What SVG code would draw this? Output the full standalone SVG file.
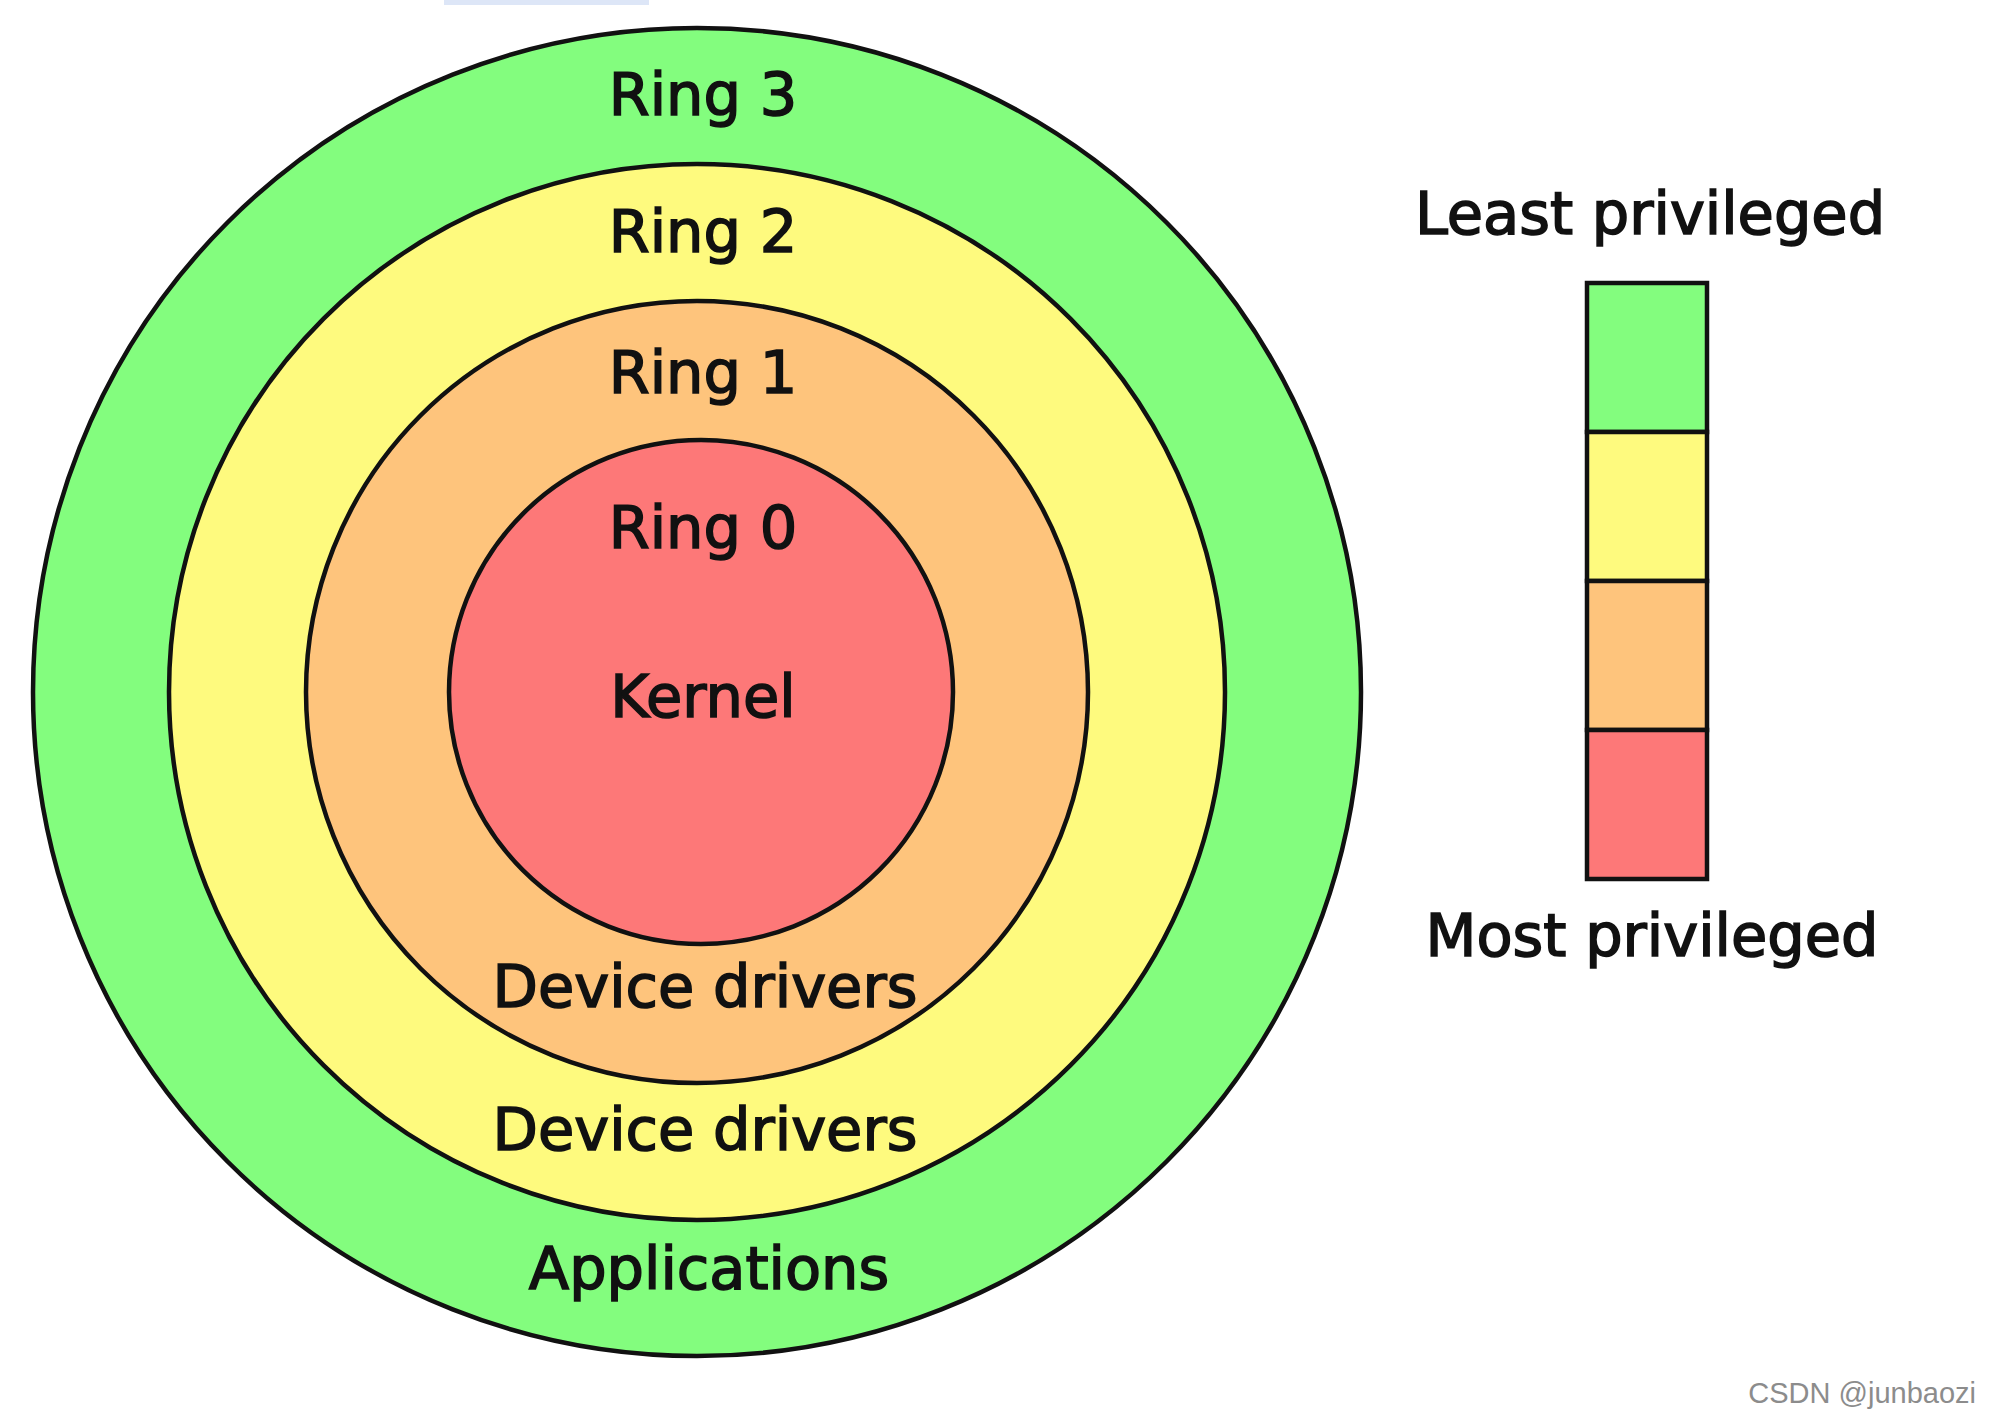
<svg xmlns="http://www.w3.org/2000/svg" width="2000" height="1422" viewBox="0 0 2000 1422">
  <style>
    .ring { stroke: #111; stroke-width: 4.5; }
    .lbl { font-family: "DejaVu Sans", "Noto Sans", sans-serif; font-size: 59px; fill: #111; stroke: #111; stroke-width: 1.6; text-anchor: middle; }
    .cell { stroke: #111; stroke-width: 4.5; }
    .wm { font-family: "Liberation Sans", Arial, sans-serif; font-size: 29px; fill: #8c8c8c; }
  </style>
  <rect x="0" y="0" width="2000" height="1422" fill="#ffffff"/>
  <rect x="444" y="0" width="205" height="5" fill="#dde6f7"/>

  <g id="ring3">
    <circle class="ring" cx="697" cy="692" r="664" fill="#83fd7e"/>
    <text class="lbl" x="703" y="115">Ring 3</text>
    <text class="lbl" x="709" y="1289">Applications</text>
  </g>
  <g id="ring2">
    <circle class="ring" cx="697" cy="692" r="528" fill="#fefa7e"/>
    <text class="lbl" x="703" y="252">Ring 2</text>
    <text class="lbl" x="705" y="1150">Device drivers</text>
  </g>
  <g id="ring1">
    <circle class="ring" cx="697" cy="692" r="391" fill="#fec47c"/>
    <text class="lbl" x="703" y="393">Ring 1</text>
    <text class="lbl" x="705" y="1007">Device drivers</text>
  </g>
  <g id="ring0">
    <circle class="ring" cx="701" cy="692" r="252" fill="#fd7878"/>
    <text class="lbl" x="703" y="548">Ring 0</text>
    <text class="lbl" x="703" y="717">Kernel</text>
  </g>

  <g id="connectors"></g>

  <g id="legend">
    <text class="lbl" x="1650" y="234">Least privileged</text>
    <rect class="cell" x="1587" y="283" width="120" height="149" fill="#83fd7e"/>
    <rect class="cell" x="1587" y="432" width="120" height="149" fill="#fefa7e"/>
    <rect class="cell" x="1587" y="581" width="120" height="149" fill="#fec47c"/>
    <rect class="cell" x="1587" y="730" width="120" height="149" fill="#fd7878"/>
    <text class="lbl" x="1652" y="956">Most privileged</text>
  </g>

  <g id="watermark">
    <text class="wm" x="1976" y="1403" text-anchor="end">CSDN @junbaozi</text>
  </g>
</svg>
